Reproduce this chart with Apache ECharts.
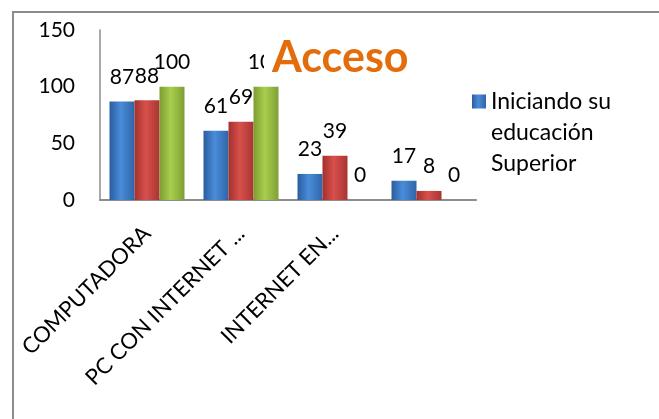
<!DOCTYPE html>
<html>
<head>
<meta charset="utf-8">
<script src="https://cdn.jsdelivr.net/npm/echarts@6/dist/echarts.min.js"></script>
<style>
  html, body { margin: 0; padding: 0; background: #fff; }
  #chart { width: 659px; height: 419px; }
</style>
</head>
<body>
<div id="chart"></div>
<script>
// Categories along the x axis (the last one has no visible caption)
const categories = ['COMPUTADORA', 'PC CON INTERNET ...', 'INTERNET EN...', ''];

// Series names and values
const seriesNames = ['Iniciando su\neducación\nSuperior', 'Serie 2', 'Serie 3'];
const serie1 = [87, 61, 23, 17];
const serie2 = [88, 69, 39, 8];
const serie3 = [100, 100, 0, 0];

// Value axis ticks
const yMin = 0, yMax = 150, yStep = 50;

const FONT = 'Lato, "Open Sans", sans-serif';

function shade(dark, light, edge) {
  return {
    type: 'linear', x: 0, y: 0, x2: 1, y2: 0,
    colorStops: [
      { offset: 0, color: dark },
      { offset: 0.45, color: light },
      { offset: 1, color: edge }
    ]
  };
}

const palette = [
  shade('#2a5d9f', '#4a8cd8', '#2f65a8'),
  shade('#a3302d', '#d8504c', '#a83532'),
  shade('#7d9c30', '#a8cf4e', '#7f9f34')
];
const legendColors = ['#3f7bc5', '#c9403d', '#94bb45'];

const values = [serie1, serie2, serie3];

// Legend swatch: a 14px square pinned to the top of a taller item box,
// so the first line of the three-line legend text sits beside it.
const swatch = 'path://M0 0H14V14H0Z M0 76H0.01V76.01H0Z';

const chart = echarts.init(document.getElementById('chart'));
chart.setOption({
  animation: false,
  backgroundColor: '#fff',
  textStyle: { fontFamily: FONT },
  title: {
    text: 'Acceso',
    left: 264,
    top: 35,
    z: 20,
    backgroundColor: '#fff',
    padding: [2, 8, 2, 8],
    textStyle: { color: '#e46c0a', fontSize: 43, fontWeight: 'bold', fontFamily: FONT }
  },
  legend: {
    data: [seriesNames[0]],
    left: 467,
    top: 81,
    orient: 'vertical',
    icon: swatch,
    itemWidth: 14,
    itemHeight: 76,
    selectedMode: false,
    textStyle: { fontSize: 23, lineHeight: 31, color: '#000', fontFamily: FONT }
  },
  graphic: [{
    type: 'rect',
    silent: true,
    shape: { x: 13, y: 12, width: 800, height: 600 },
    style: { fill: 'none', stroke: '#8c8c8c', lineWidth: 2 }
  }],
  grid: { left: 100, right: 183, top: 30, bottom: 219 },
  xAxis: {
    type: 'category',
    data: categories,
    axisLine: { lineStyle: { color: '#8c8c8c', width: 2 } },
    axisTick: { show: false },
    axisLabel: { rotate: 45, fontSize: 22, color: '#000', margin: 30, interval: 0 }
  },
  yAxis: {
    type: 'value',
    min: yMin, max: yMax, interval: yStep,
    axisLine: { show: true, lineStyle: { color: '#8c8c8c', width: 1.5 } },
    axisTick: { show: false },
    splitLine: { show: false },
    axisLabel: { fontSize: 21, color: '#000', margin: 25 }
  },
  series: values.map((vals, i) => ({
    name: seriesNames[i],
    type: 'bar',
    data: vals,
    barWidth: 25,
    barGap: '0%',
    color: legendColors[i],
    itemStyle: { color: palette[i] },
    label: {
      show: true,
      position: 'top',
      distance: 14,
      fontSize: 21,
      color: '#000',
      fontFamily: FONT
    }
  }))
});
</script>
</body>
</html>
